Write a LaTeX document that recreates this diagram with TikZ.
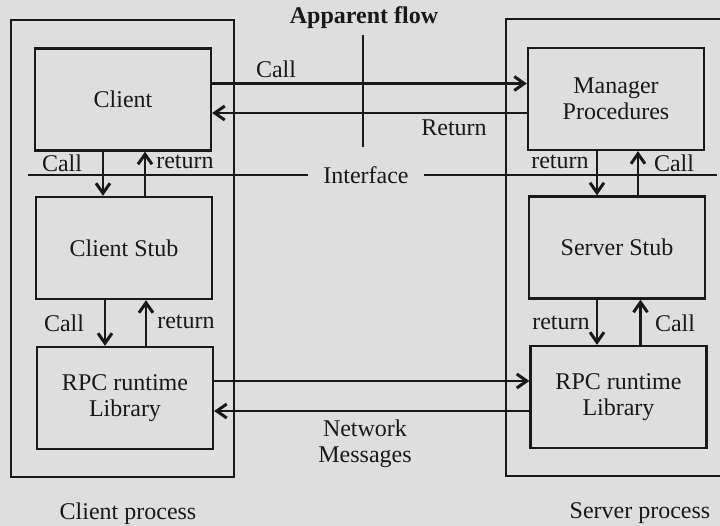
\documentclass[tikz,border=0pt]{standalone}
\usepackage{fontspec}
\setmainfont{Liberation Serif}
\usetikzlibrary{arrows.meta}

\begin{document}
\begin{tikzpicture}[x=0.5pt, y=-0.5pt, line width=1.15pt, color=black!90,
    every node/.style={font=\fontsize{12}{13}\selectfont},
    box/.style={draw, minimum width=88pt, minimum height=51pt, align=center},
    >={Straight Barb[length=5pt,width=7pt,line width=1.5pt]}]
    \fill[black!13] (0,0) rectangle (720,526);
    \useasboundingbox (0,0) rectangle (720,526);

    % the two processes
    \draw (11,20) rectangle (234,477);
    \draw (725,19) -- (506,19) -- (506,476) -- (725,476);
    \node (cproc) at (128,514) {Client process};
    \node (sproc) at (640,513) {Server process};

    % layers on each side
    \node[box] (client) at (123,99.5) {Client};
    \node[box] (cstub) at (124,248) {Client Stub};
    \node[box] (crpc) at (125,398) {RPC runtime\\Library};
    \node[box] (mgr) at (616,99) {Manager\\Procedures};
    \node[box] (sstub) at (617,247.5) {Server Stub};
    \node[box] (srpc) at (618.5,397) {RPC runtime\\Library};

    % apparent flow
    \node[font=\bfseries\fontsize{12}{13}\selectfont] (flow) at (364,18) {Apparent flow};
    \coordinate (flowtop) at (363,35);
    \coordinate (flowbot) at (363,147);
    \draw (flowtop) -- (flowbot);
    \draw[->] ([yshift=8pt]client.east) -- ([yshift=8pt]client.east -| mgr.west);
    \draw[->] ([yshift=-7pt]mgr.west) -- ([yshift=-7pt]mgr.west -| client.east);
    \node (acall) at (276,69) {Call};
    \node (aret) at (454,128) {Return};

    % interface line
    \node[inner xsep=7pt] (iface) at (366,175) {Interface};
    \coordinate (ifl) at (28,175);
    \coordinate (ifr) at (717,175);
    \draw (ifl) -- (iface);
    \draw (iface) -- (ifr);

    % client side calls
    \draw[->] ([xshift=-10pt]client.south) -- ([xshift=-10pt]client.south |- cstub.north);
    \draw[->] ([xshift=10.5pt]cstub.north) -- ([xshift=10.5pt]cstub.north |- client.south);
    \draw[->] ([xshift=-9.5pt]cstub.south) -- ([xshift=-9.5pt]cstub.south |- crpc.north);
    \draw[->] ([xshift=10.5pt]crpc.north) -- ([xshift=10.5pt]crpc.north |- cstub.south);
    \node (ccall1) at (62,163) {Call};
    \node (cret1) at (185,162) {return};
    \node (ccall2) at (64,323) {Call};
    \node (cret2) at (186,322) {return};

    % server side calls
    \draw[->] ([xshift=-9.5pt]mgr.south) -- ([xshift=-9.5pt]mgr.south |- sstub.north);
    \draw[->] ([xshift=10.5pt]sstub.north) -- ([xshift=10.5pt]sstub.north |- mgr.south);
    \draw[->] ([xshift=-10pt]sstub.south) -- ([xshift=-10pt]sstub.south |- srpc.north);
    \draw[->] ([xshift=11pt]srpc.north) -- ([xshift=11pt]srpc.north |- sstub.south);
    \node (sret1) at (560,162) {return};
    \node (scall1) at (674,163) {Call};
    \node (sret2) at (561,323) {return};
    \node (scall2) at (675,323) {Call};

    % network
    \draw[->] ([yshift=8.5pt]crpc.east) -- ([yshift=8.5pt]crpc.east -| srpc.west);
    \draw[->] ([yshift=-7pt]srpc.west) -- ([yshift=-7pt]srpc.west -| crpc.east);
    \node[align=center] (net) at (365,444) {Network\\Messages};
\end{tikzpicture}
\end{document}
